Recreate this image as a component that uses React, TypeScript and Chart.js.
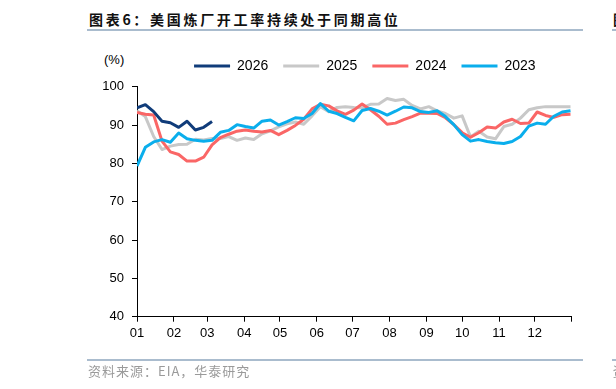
import React, { useEffect, useRef } from "react";
import { Chart, registerables } from "chart.js";

Chart.register(...registerables);

// ---- data ----
const SERIES_LABELS = ["2026", "2025", "2024", "2023"];
const SERIES_COLORS = ["#103c7a", "#c8c8c8", "#fa6666", "#0aaeec"];
const SERIES_ORDER = [0, 3, 2, 1]; // draw order (lower = on top)

const V2026 = [94.5, 95.3, 93.5, 91.0, 90.6, 89.4, 91.0, 88.7, 89.4, 90.9];
const V2025 = [
  93.7, 92.2, 87.0, 83.6, 84.5, 84.9, 85.0, 86.3, 86.1, 86.5,
  86.5, 87.0, 86.0, 86.6, 86.2, 87.7, 88.5, 89.5, 90.3, 90.8,
  90.2, 92.4, 94.8, 93.5, 94.6, 94.8, 94.6, 94.5, 95.4, 95.5,
  96.9, 96.4, 96.7, 95.1, 94.2, 94.8, 93.7, 93.0, 91.8, 92.4,
  86.9, 88.4, 86.9, 86.4, 89.6, 90.2, 91.8, 94.0, 94.5, 94.8,
  94.8, 94.8, 94.8,
];
const V2024 = [
  93.3, 92.8, 92.6, 85.8, 83.0, 82.3, 80.6, 80.6, 81.6, 84.8,
  86.7, 87.6, 88.4, 88.7, 88.4, 88.2, 88.6, 87.5, 88.6, 89.9,
  91.5, 94.2, 95.4, 95.0, 93.7, 92.8, 93.9, 95.5, 94.0, 92.3,
  90.2, 90.5, 91.4, 92.2, 93.1, 93.1, 93.0, 91.9, 90.1, 88.0,
  86.8, 88.0, 89.5, 89.2, 90.8, 91.5, 90.4, 90.5, 93.4, 92.5,
  92.0, 92.7, 92.8,
];
const V2023 = [
  79.3, 84.2, 85.6, 86.2, 85.5, 87.9, 86.4, 86.0, 85.8, 86.0,
  88.1, 88.6, 90.1, 89.6, 89.2, 91.0, 91.3, 90.0, 90.9, 91.9,
  91.7, 93.0, 95.6, 93.6, 93.0, 92.0, 91.1, 93.8, 94.3, 93.6,
  92.6, 93.6, 94.7, 94.5, 93.5, 93.3, 93.7, 92.2, 90.1, 87.5,
  85.8, 86.2, 85.7, 85.4, 85.2, 85.7, 87.0, 89.7, 90.5, 90.2,
  92.3, 93.4, 93.7,
];
const SERIES_VALUES = [V2026, V2025, V2024, V2023];

const DAYS_PER_WEEK = 7;
const MONTH_START_DAYS = [0, 31, 59, 90, 120, 151, 181, 212, 243, 273, 304, 334, 365];
const MONTH_LABELS = ["01", "02", "03", "04", "05", "06", "07", "08", "09", "10", "11", "12", ""];
const Y_MIN = 40;
const Y_MAX = 100;
const Y_STEP = 10;

const TITLE = "图表6：美国炼厂开工率持续处于同期高位";
const SOURCE = "资料来源：EIA，华泰研究";
const UNIT = "(%)";

const FONT = "'Liberation Sans', Arial, Helvetica, sans-serif";
const CJK = "'Noto Sans CJK SC', 'Noto Sans', sans-serif";

const LEGEND_DX = 34;
const LEGEND_DY = -3.7;

const legendShift = {
  id: "legendShift",
  afterLayout(chart: any) {
    const lg = chart.legend;
    if (!lg) return;
    lg.left += LEGEND_DX;
    lg.right += LEGEND_DX;
    lg.top += LEGEND_DY;
    lg.bottom += LEGEND_DY;
  },
};

function RefineryChart() {
  const ref = useRef<HTMLCanvasElement | null>(null);
  useEffect(() => {
    if (!ref.current) return;
    const datasets = SERIES_LABELS.map((label, k) => ({
      label,
      data: SERIES_VALUES[k].map((v, i) => ({ x: i * DAYS_PER_WEEK, y: v })),
      borderColor: SERIES_COLORS[k],
      backgroundColor: SERIES_COLORS[k],
      borderWidth: 3,
      pointRadius: 0,
      pointHoverRadius: 0,
      tension: 0,
      borderJoinStyle: "round" as const,
      order: SERIES_ORDER[k],
    }));
    const chart = new Chart(ref.current, {
      type: "line",
      data: { datasets },
      plugins: [legendShift],
      options: {
        animation: false,
        responsive: false,
        maintainAspectRatio: false,
        layout: { padding: { left: 90, right: 44.3, top: 47.7, bottom: 48.3 } },
        plugins: {
          tooltip: { enabled: false },
          legend: {
            display: true,
            position: "top",
            align: "center",
            labels: {
              boxWidth: 36,
              boxHeight: 3,
              padding: 15,
              color: "#000",
              font: { family: FONT, size: 14 },
              sort: (a: any, b: any) => a.datasetIndex - b.datasetIndex,
              generateLabels: (c: any) =>
                Chart.defaults.plugins.legend.labels
                  .generateLabels(c)
                  .map((it: any) => ({ ...it, lineWidth: 0 })),
            },
          },
        },
        scales: {
          x: {
            type: "linear",
            min: MONTH_START_DAYS[0],
            max: MONTH_START_DAYS[MONTH_START_DAYS.length - 1],
            afterBuildTicks: (s: any) => {
              s.ticks = MONTH_START_DAYS.map((v) => ({ value: v }));
            },
            afterFit: (s: any) => {
              s.height = 24;
            },
            ticks: {
              autoSkip: false,
              maxRotation: 0,
              padding: 4,
              color: "#000",
              font: { family: FONT, size: 13 },
              callback: (_v: any, i: number) => MONTH_LABELS[i] ?? "",
            },
            grid: {
              display: true,
              drawOnChartArea: false,
              drawTicks: true,
              tickLength: 5,
              color: "#000",
              lineWidth: 1,
            },
            border: { display: true, color: "#000", width: 1 },
          },
          y: {
            min: Y_MIN,
            max: Y_MAX,
            afterFit: (s: any) => {
              s.width = 47;
            },
            ticks: {
              stepSize: Y_STEP,
              padding: 8,
              color: "#000",
              font: { family: FONT, size: 13 },
            },
            grid: {
              display: true,
              drawOnChartArea: false,
              drawTicks: true,
              tickLength: 5,
              color: "#000",
              lineWidth: 1,
            },
            border: { display: true, color: "#000", width: 1 },
          },
        },
      },
    });
    return () => chart.destroy();
  }, []);
  return (
    <canvas
      ref={ref}
      width={616}
      height={389}
      style={{ position: "absolute", left: 0, top: 0, width: 616, height: 389 }}
    />
  );
}

export default function App() {
  const rule = (left: number, top: number, width: number) => (
    <div
      style={{
        position: "absolute",
        left,
        top,
        width,
        height: 2,
        background: "#aabcce",
      }}
    />
  );
  return (
    <div
      style={{
        position: "fixed",
        left: 0,
        top: 0,
        width: 616,
        height: 389,
        overflow: "hidden",
        background: "#fff",
      }}
    >
      <div
        style={{
          position: "absolute",
          left: 89,
          top: 8,
          fontFamily: CJK,
          fontWeight: 700,
          fontSize: 14,
          letterSpacing: 2.7,
          lineHeight: "22px",
          color: "#111",
          whiteSpace: "nowrap",
        }}
      >
        {TITLE}
      </div>
      <div
        style={{
          position: "absolute",
          left: 613,
          top: 8,
          fontFamily: CJK,
          fontWeight: 700,
          fontSize: 14,
          lineHeight: "22px",
          color: "#111",
          whiteSpace: "nowrap",
        }}
      >
        图
      </div>
      {rule(86.7, 29, 496)}
      {rule(612, 29, 10)}
      <div
        style={{
          position: "absolute",
          left: 104,
          top: 52,
          fontFamily: FONT,
          fontSize: 13,
          lineHeight: "16px",
          color: "#000",
        }}
      >
        {UNIT}
      </div>
      <RefineryChart />
      {rule(86.7, 358.5, 496)}
      {rule(612, 358.5, 10)}
      <div
        style={{
          position: "absolute",
          left: 88,
          top: 362,
          fontFamily: CJK,
          fontSize: 13,
          letterSpacing: 1,
          lineHeight: "18px",
          color: "#9a9a9a",
          whiteSpace: "nowrap",
        }}
      >
        {SOURCE}
      </div>
      <div
        style={{
          position: "absolute",
          left: 612.7,
          top: 362,
          fontFamily: CJK,
          fontSize: 13,
          lineHeight: "18px",
          color: "#9a9a9a",
          whiteSpace: "nowrap",
        }}
      >
        资
      </div>
    </div>
  );
}
